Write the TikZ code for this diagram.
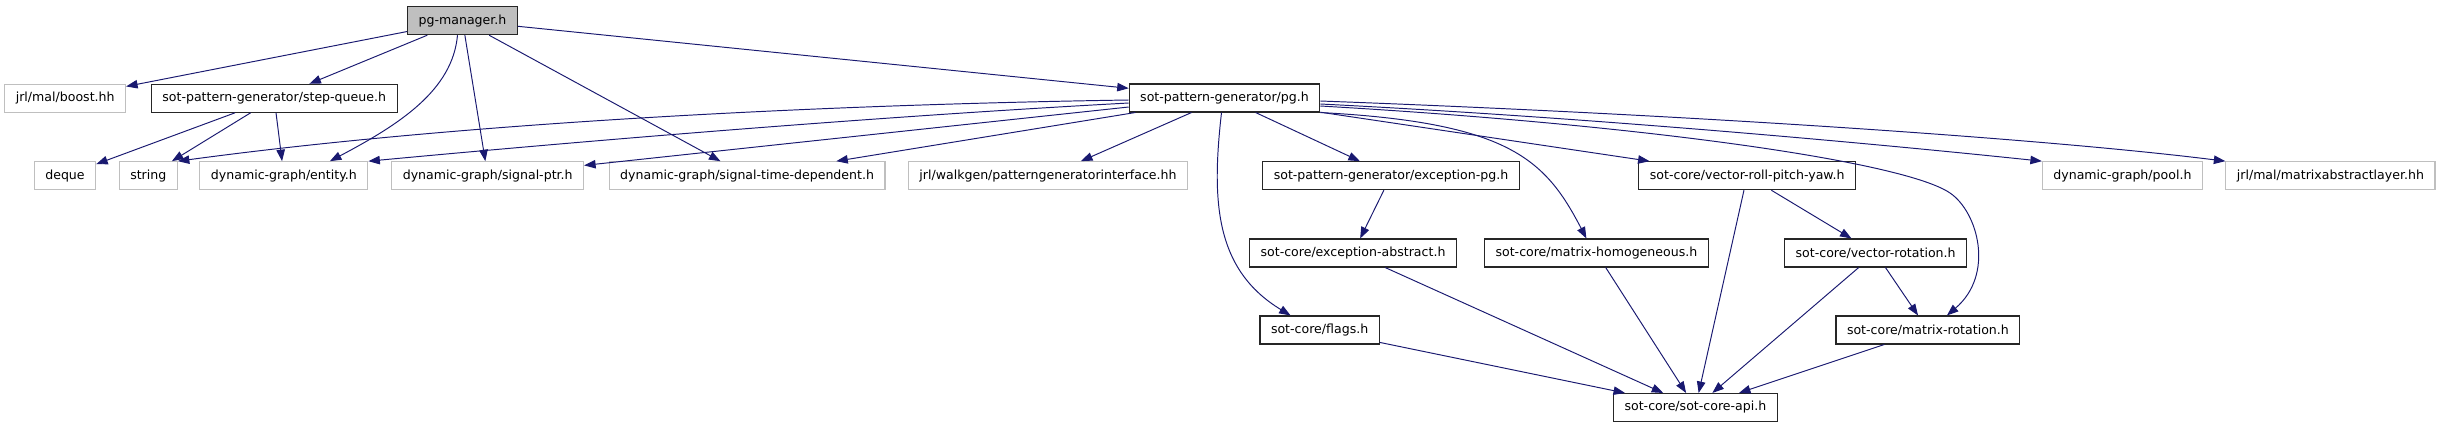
\documentclass[tikz,border=0pt]{standalone}
\usepackage{fontspec}
\setmainfont{DejaVu Sans}
\usetikzlibrary{arrows.meta,calc}
\definecolor{edgeblue}{HTML}{191970}
\definecolor{boxgray}{HTML}{BFBFBF}

\begin{document}
\begin{tikzpicture}[
    x=0.02cm, y=-0.02cm,
    box/.style={rectangle, draw, line width=0.6pt, minimum height=0.56cm, inner xsep=0.22cm, inner ysep=0pt, font=\fontsize{7.15}{8.6}\selectfont},
    localbox/.style={box, draw=black!85},
    extbox/.style={box, draw=boxgray},
    rootbox/.style={box, draw=black!85, fill=boxgray},
    dep/.style={-{Triangle[length=0.23cm, width=0.17cm]}, line width=0.55pt, color=edgeblue}
]
\useasboundingbox (0,0) rectangle (2440,427);

    % Nodes
    \node[rootbox] (pgm) at (462.5,20.7) {pg-manager.h};

    \node[extbox] (boost) at (65.2,98.3) {jrl/mal/boost.hh};
    \node[localbox] (stepq) at (274.2,98.3) {sot-pattern-generator/step-queue.h};
    \node[localbox] (pg) at (1224.5,98) {sot-pattern-generator/pg.h};

    \node[extbox] (deque) at (65,175.7) {deque};
    \node[extbox] (string) at (148.3,175.7) {string};
    \node[extbox] (entity) at (283.9,175.7) {dynamic-graph/entity.h};
    \node[extbox] (sigptr) at (487.7,175.7) {dynamic-graph/signal-ptr.h};
    \node[extbox] (sigtd) at (747.1,175.7) {dynamic-graph/signal-time-dependent.h};
    \node[extbox] (walkgen) at (1048,175.7) {jrl/walkgen/patterngeneratorinterface.hh};
    \node[localbox] (excpg) at (1391,175.7) {sot-pattern-generator/exception-pg.h};
    \node[localbox] (rpy) at (1747.2,175.7) {sot-core/vector-roll-pitch-yaw.h};
    \node[extbox] (pool) at (2122.4,175.7) {dynamic-graph/pool.h};
    \node[extbox] (mal) at (2330.4,175.7) {jrl/mal/matrixabstractlayer.hh};

    \node[localbox] (excabs) at (1353,253) {sot-core/exception-abstract.h};
    \node[localbox] (mathom) at (1596.4,253) {sot-core/matrix-homogeneous.h};
    \node[localbox] (vrot) at (1875.6,253) {sot-core/vector-rotation.h};

    \node[localbox] (flags) at (1319.6,330) {sot-core/flags.h};
    \node[localbox] (mrot) at (1927.9,330) {sot-core/matrix-rotation.h};

    \node[localbox] (api) at (1695.4,407.5) {sot-core/sot-core-api.h};

    % Arrows from pg-manager.h
    \draw[dep] (pgm) -- (boost);
    \draw[dep] (pgm) -- (stepq);
    \draw[dep] ($(pgm.south)+(-5,0)$) .. controls +(-5,55) and +(70,-37) .. ($(entity.north)+(46,0)$);
    \draw[dep] (pgm) -- (sigptr);
    \draw[dep] (pgm) -- (sigtd);
    \draw[dep] (pgm) -- (pg);

    % Arrows from step-queue.h
    \draw[dep] (stepq) -- (deque);
    \draw[dep] (stepq) -- (string);
    \draw[dep] (stepq) -- (entity);

    % Arrows from pg.h
    \draw[dep] ($(pg.west)+(0,2)$) .. controls +(-328,5) and +(273,-37) .. (string.north east);
    \draw[dep] ($(pg.west)+(0,5)$) .. controls +(-278,15) and +(182,-17) .. (entity.north east);
    \draw[dep] ($(pg.west)+(0,9)$) -- (sigptr);
    \draw[dep] (pg) -- (sigtd);
    \draw[dep] (pg) -- (walkgen);
    \draw[dep] ($(pg.south)+(-3,0)$) .. controls +(-10,88) and +(-76,-46) .. ($(flags.north)+(-29,0)$);
    \draw[dep] (pg) -- (excpg);
    \draw[dep] (pg.south east) .. controls +(189,10) and +(-41,-79) .. ($(mathom.north)+(-10,0)$);
    \draw[dep] (pg) -- (rpy);
    \draw[dep] ($(pg.east)+(0,8)$) .. controls +(329,19) and +(-45,-31) .. (1950,193)
        .. controls +(28,19) and +(48,-41) .. ($(mrot.north)+(19,0)$);
    \draw[dep] ($(pg.east)+(0,6)$) .. controls +(279,14) and +(-162,-17) .. (pool.north west);
    \draw[dep] ($(pg.east)+(0,3)$) .. controls +(379,14) and +(-176,-22) .. (mal.north west);

    % Arrows between sot-core headers
    \draw[dep] (excpg) -- (excabs);
    \draw[dep] (excabs) -- (api);
    \draw[dep] (mathom) -- (api);
    \draw[dep] (rpy) -- (vrot);
    \draw[dep] (rpy) -- (api);
    \draw[dep] (vrot) -- (api);
    \draw[dep] (vrot) -- (mrot);
    \draw[dep] (flags) -- (api);
    \draw[dep] (mrot) -- (api);

\end{tikzpicture}
\end{document}
